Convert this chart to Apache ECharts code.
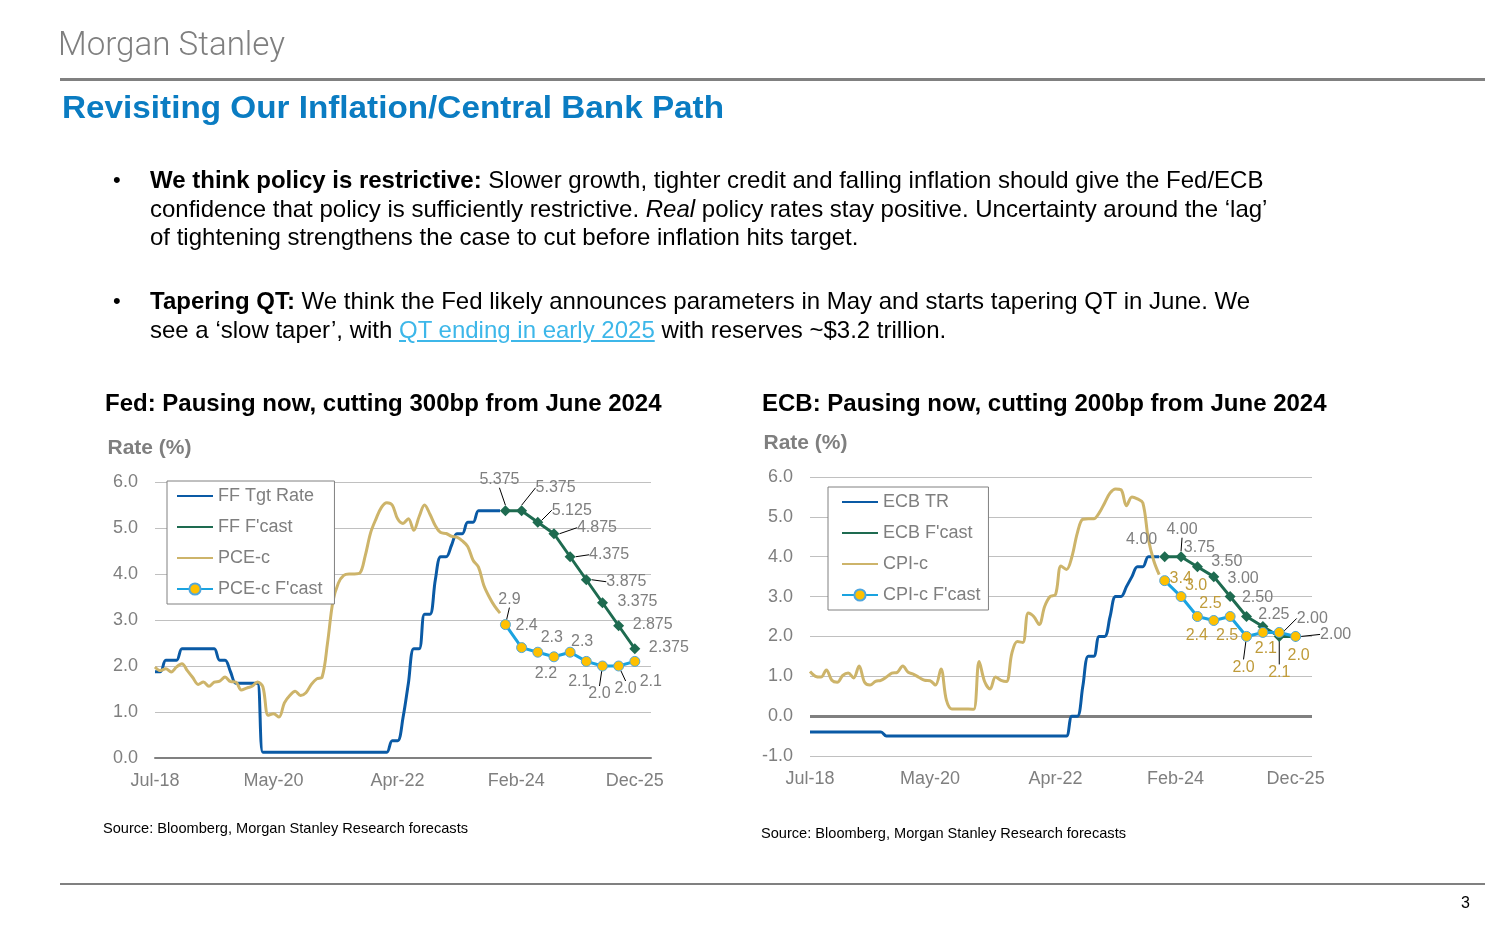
<!DOCTYPE html>
<html><head><meta charset="utf-8">
<script src="https://cdn.jsdelivr.net/npm/echarts@6/dist/echarts.min.js"></script>
<style>
html,body{margin:0;padding:0;background:#fff;}
#page{position:relative;width:1500px;height:930px;overflow:hidden;font-family:"Liberation Sans",Arial,sans-serif;}
#chart{position:absolute;left:0;top:0;width:1500px;height:930px;}
.abs{position:absolute;white-space:nowrap;}
#logo{left:58px;top:23px;font-family:Roboto,"Liberation Sans",sans-serif;font-weight:300;font-size:34px;line-height:40px;color:#7F7F7F;transform-origin:0 50%;}
.rule{position:absolute;left:60px;width:1425px;background:#808080;}
#title{left:62px;top:87px;font-size:32px;line-height:40px;font-weight:bold;color:#0A7CC2;transform-origin:0 50%;}
.btxt{font-size:24px;line-height:28.7px;color:#000;}
.bdot{font-size:22px;line-height:28.7px;color:#000;}
a.lnk{color:#3DB7E9;text-decoration:underline;}
#pnum{left:1461px;top:893px;font-size:16px;line-height:20px;color:#000;}
</style></head>
<body>
<div id="page">
  <div id="chart"></div>
  <div id="logo" class="abs">Morgan Stanley</div>
  <div class="rule" style="top:78px;height:3px;"></div>
  <div id="title" class="abs">Revisiting Our Inflation/Central Bank Path</div>
  <div class="abs bdot" style="left:113px;top:166px;">•</div>
  <div class="abs btxt" style="left:150px;top:166px;"><b>We think policy is restrictive:</b> Slower growth, tighter credit and falling inflation should give the Fed/ECB<br>confidence that policy is sufficiently restrictive. <i>Real</i> policy rates stay positive. Uncertainty around the ‘lag’<br>of tightening strengthens the case to cut before inflation hits target.</div>
  <div class="abs bdot" style="left:113px;top:287px;">•</div>
  <div class="abs btxt" style="left:150px;top:287px;"><b>Tapering QT:</b> We think the Fed likely announces parameters in May and starts tapering QT in June. We<br>see a ‘slow taper’, with <a class="lnk">QT ending in early 2025</a> with reserves ~$3.2 trillion.</div>
  <div class="rule" style="top:883px;height:2px;"></div>
  <div id="pnum" class="abs">3</div>
</div>
<script>
// ---------- DATA ----------
const MONTH_NAMES = ['Jan','Feb','Mar','Apr','May','Jun','Jul','Aug','Sep','Oct','Nov','Dec'];
const categories = [];
for (let y = 2018, m = 6; y < 2026 || m <= 2; ) {
  categories.push(MONTH_NAMES[m] + '-' + String(y).slice(2));
  m++; if (m === 12) { m = 0; y++; }
}
const tickLabels = ['Jul-18', 'May-20', 'Apr-22', 'Feb-24', 'Dec-25'];

// Fed: monthly history Jul-18 .. Nov-23
const ffTgtRate = [1.875,1.875,2.125,2.125,2.125,2.375,2.375,2.375,2.375,2.375,2.375,2.375,
  2.125,2.125,1.875,1.625,1.625,1.625,1.625,1.625,0.125,
  0.125,0.125,0.125,0.125,0.125,0.125,0.125,0.125,0.125,0.125,0.125,0.125,0.125,0.125,0.125,0.125,0.125,0.125,0.125,0.125,0.125,0.125,0.125,
  0.375,0.375,0.875,1.625,2.375,2.375,3.125,3.125,3.875,4.375,4.375,4.625,4.875,4.875,5.125,5.125,5.375,5.375,5.375,5.375,5.375];
const pceC = [1.98,1.9,1.94,1.87,1.98,2.05,1.9,1.75,1.6,1.65,1.56,1.65,1.67,1.76,1.66,1.65,1.48,1.52,1.56,1.65,1.55,
  0.93,0.96,0.89,1.2,1.36,1.45,1.36,1.42,1.6,1.72,1.76,2.5,3.4,3.8,3.97,4.0,4.0,4.02,4.4,4.9,5.2,5.45,5.55,5.5,
  5.2,5.1,5.2,4.95,5.25,5.5,5.3,5.05,4.9,4.88,4.82,4.8,4.72,4.6,4.3,4.15,3.75,3.5,3.3,3.15];
// Forecasts (quarterly)
const fcastDates = ['Dec-23','Mar-24','Jun-24','Sep-24','Dec-24','Mar-25','Jun-25','Sep-25','Dec-25'];
const ffFcast = [5.375,5.375,5.125,4.875,4.375,3.875,3.375,2.875,2.375];
const pceFcast = [2.9,2.4,2.3,2.2,2.3,2.1,2.0,2.0,2.1];

// ECB: monthly history Jul-18 .. Nov-23
const ecbTR = [-0.4,-0.4,-0.4,-0.4,-0.4,-0.4,-0.4,-0.4,-0.4,-0.4,-0.4,-0.4,-0.4,-0.4,
  -0.5,-0.5,-0.5,-0.5,-0.5,-0.5,-0.5,-0.5,-0.5,-0.5,-0.5,-0.5,-0.5,-0.5,-0.5,-0.5,-0.5,-0.5,-0.5,-0.5,
  -0.5,-0.5,-0.5,-0.5,-0.5,-0.5,-0.5,-0.5,-0.5,-0.5,-0.5,-0.5,-0.5,-0.5,
  0.0,0.0,0.75,1.5,1.5,2.0,2.0,2.5,3.0,3.0,3.25,3.5,3.75,3.75,4.0,4.0,4.0];
const cpiC = [1.12,1.0,0.98,1.16,0.9,0.85,1.02,1.08,0.96,1.26,0.85,0.78,0.87,0.9,0.98,1.08,1.1,1.26,1.1,1.05,0.97,
  0.9,0.89,0.78,1.18,0.4,0.18,0.18,0.18,0.18,0.17,1.37,0.87,0.68,0.98,0.9,0.87,1.58,1.87,1.85,2.59,2.5,2.3,2.75,
  3.0,3.05,3.77,3.68,4.0,4.6,4.94,4.95,4.95,5.1,5.35,5.6,5.7,5.68,5.28,5.5,5.45,5.35,4.45,3.9,3.55];
const ecbFcast = [4.0,4.0,3.75,3.5,3.0,2.5,2.25,2.0,2.0];
const cpiFcast = [3.4,3.0,2.5,2.4,2.5,2.0,2.1,2.1,2.0];

// ---------- STYLE / LABEL PLACEMENT ----------
const C = {ff:'#0A5AA5', ffF:'#1E6B50', pce:'#CDB46A', pceF:'#1AA3E0', gold:'#FFC000', grid:'#C0C0C0', axis:'#808080', txt:'#7F7F7F', cpiLbl:'#BF9B3A'};
const LBL = {
  ff:  {off:[[-6,-31],[34,-23],[34,-12],[43,-6],[39,-2],[40,2],[35,-1],[34,-1],[34,-1]], lead:[0,1,2,3,4,5], dec:3, color:C.txt},
  pce: {off:[[4,-25],[5,-22],[14,-15],[-8,17],[12,-11],[-7,20],[-3,28],[7,23],[16,20]], lead:[0,6,7], dec:1, color:C.txt},
  ecb: {off:[[-23,-17],[1,-27],[2,-19],[13,-15],[13,-18],[11,-19],[11,-12],[33,-18],[40,-2]], lead:[1,7,8], dec:2, color:C.txt},
  cpi: {off:[[16,-2],[15,-11],[13,-13],[-17,15],[-3,19],[-3,31],[3,16],[0,40],[3,19]], lead:[5,7], dec:1, color:C.cpiLbl}
};
const FONT = '"Liberation Sans", Arial, sans-serif';

function histSeries(name, idx, values, color) {
  return {name, type:'line', xAxisIndex:idx, yAxisIndex:idx, data:values, symbol:'none', smooth:0.35,
    lineStyle:{color, width:3}, itemStyle:{color}, z:2};
}
function fcastSeries(name, idx, values, color, symbol, cfg, markerStyle) {
  return {name, type:'line', xAxisIndex:idx, yAxisIndex:idx,
    data: fcastDates.map((d,i)=>({value:[d, values[i]], labelLine:{show: cfg.lead.indexOf(i) >= 0}})),
    symbol, symbolSize: symbol === 'diamond' ? 11 : 10, showSymbol:true, showAllSymbol:true,
    lineStyle:{color, width:3}, itemStyle: markerStyle, z:3,
    label:{show:true, position:'inside', fontSize:16, fontFamily:FONT, color:cfg.color,
      formatter: p => Number(p.value[1]).toFixed(cfg.dec)},
    labelLine:{show:false, lineStyle:{color:'#000', width:1}},
    labelLayout: p => ({dx: cfg.off[p.dataIndex][0], dy: cfg.off[p.dataIndex][1]})
  };
}
function xAxisCfg(gi, showLine) {
  return {type:'category', gridIndex:gi, data:categories, boundaryGap:false,
    axisTick:{show:false},
    axisLine:{show:showLine, onZero:false, lineStyle:{color:C.axis, width:2}},
    axisLabel:{interval:(i, v) => tickLabels.indexOf(v) >= 0, color:C.txt, fontSize:18, fontFamily:FONT, margin:14},
    splitLine:{show:false}};
}
function yAxisCfg(gi, min, padRight) {
  return {type:'value', gridIndex:gi, min, max:6, interval:1,
    name:'Rate (%)', nameLocation:'end', nameGap:23,
    nameTextStyle:{color:C.txt, fontSize:21, fontWeight:'bold', fontFamily:FONT, align:'center', padding:[0,padRight,0,0]},
    axisLine:{show:false}, axisTick:{show:false},
    axisLabel:{color:C.txt, fontSize:18, fontFamily:FONT, margin:17, formatter: v => v.toFixed(1)},
    splitLine:{lineStyle:{color:C.grid, width:1}}};
}
function legendCfg(left, top, padding, names, markerName) {
  return {left, top, orient:'vertical', padding, itemWidth:36, itemHeight:14, itemGap:13,
    borderColor:'#808080', borderWidth:1, backgroundColor:'#fff',
    textStyle:{fontSize:18, color:C.txt, fontFamily:FONT},
    itemStyle:{opacity:0},
    data: names.map(n => n === markerName ? {name:n, itemStyle:{opacity:1}} : {name:n})};
}

const markerGold = {color:C.gold, borderColor:'#4FA6DE', borderWidth:1};

const option = {
  animation:false,
  textStyle:{fontFamily:FONT},
  title:[
    {text:'Fed: Pausing now, cutting 300bp from June 2024', left:105, top:392, padding:0,
      textStyle:{fontSize:24, fontWeight:'bold', color:'#000', fontFamily:FONT}},
    {text:'ECB: Pausing now, cutting 200bp from June 2024', left:762, top:392, padding:0,
      textStyle:{fontSize:24, fontWeight:'bold', color:'#000', fontFamily:FONT}}
  ],
  grid:[{left:155, top:482, width:496, height:276}, {left:810, top:477, width:502, height:279}],
  xAxis:[xAxisCfg(0, true), xAxisCfg(1, false)],
  yAxis:[yAxisCfg(0, 0, 11), yAxisCfg(1, -1, 9)],
  legend:[
    legendCfg(167, 481, [6,12,6,9], ['FF Tgt Rate', "FF F'cast", 'PCE-c', "PCE-c F'cast"], "PCE-c F'cast"),
    legendCfg(828, 487, [6,8,6,13], ['ECB TR', "ECB F'cast", 'CPI-c', "CPI-c F'cast"], "CPI-c F'cast")
  ],
  series:[
    histSeries('FF Tgt Rate', 0, ffTgtRate, C.ff),
    fcastSeries("FF F'cast", 0, ffFcast, C.ffF, 'diamond', LBL.ff, {color:C.ffF}),
    histSeries('PCE-c', 0, pceC, C.pce),
    fcastSeries("PCE-c F'cast", 0, pceFcast, C.pceF, 'circle', LBL.pce, markerGold),
    Object.assign(histSeries('ECB TR', 1, ecbTR, C.ff), {
      markLine:{silent:true, symbol:'none', label:{show:false}, data:[{yAxis:0}],
        lineStyle:{color:C.axis, width:3, type:'solid'}, z:1}}),
    fcastSeries("ECB F'cast", 1, ecbFcast, C.ffF, 'diamond', LBL.ecb, {color:C.ffF}),
    histSeries('CPI-c', 1, cpiC, C.pce),
    fcastSeries("CPI-c F'cast", 1, cpiFcast, C.pceF, 'circle', LBL.cpi, markerGold)
  ],
  graphic:[
    {type:'text', left:103, top:821, style:{text:'Source: Bloomberg, Morgan Stanley Research forecasts', font:'14.6px ' + FONT, fill:'#000'}},
    {type:'text', left:761, top:826, style:{text:'Source: Bloomberg, Morgan Stanley Research forecasts', font:'14.6px ' + FONT, fill:'#000'}}
  ]
};
const chart = echarts.init(document.getElementById('chart'), null, {renderer:'canvas'});
chart.setOption(option);

function fitWidth(id, target) {
  const el = document.getElementById(id);
  el.style.transform = 'none';
  const w = el.getBoundingClientRect().width;
  if (w > 0) el.style.transform = 'scaleX(' + (target / w) + ')';
}
fitWidth('logo', 227);
fitWidth('title', 662);
if (document.fonts && document.fonts.ready) document.fonts.ready.then(() => { fitWidth('logo', 227); fitWidth('title', 662); });
</script>
</body></html>
